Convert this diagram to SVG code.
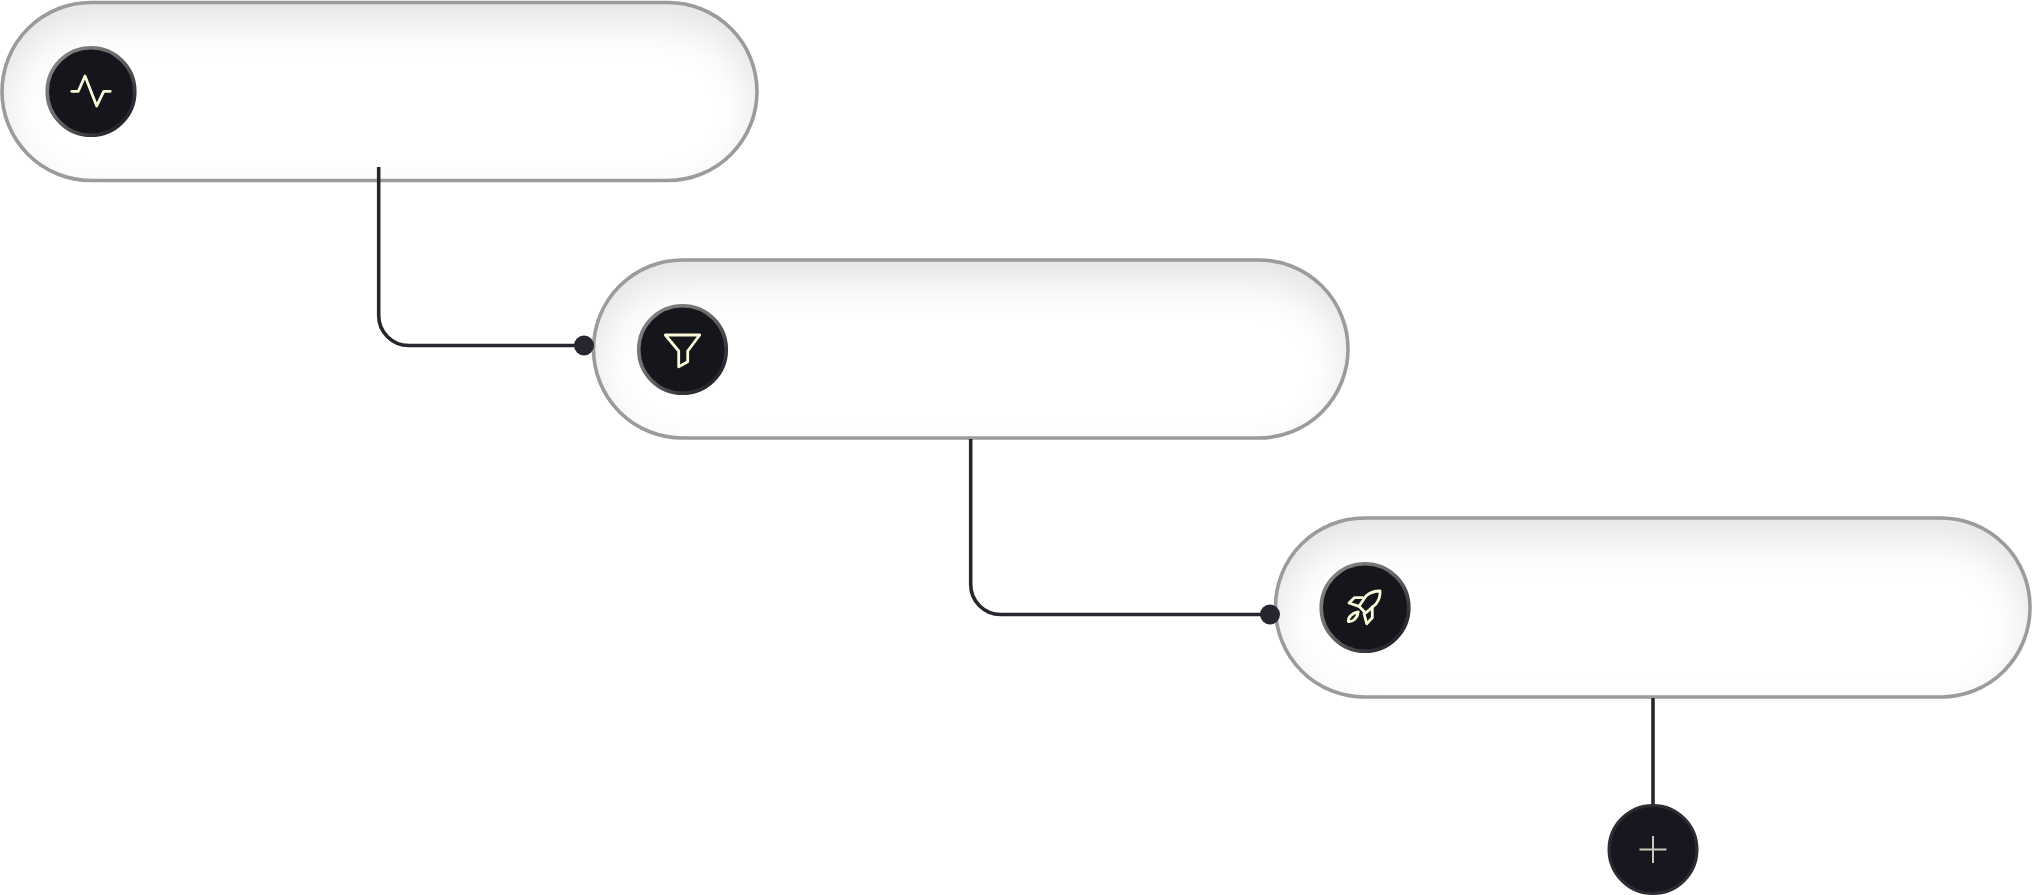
<svg xmlns="http://www.w3.org/2000/svg" width="2032" height="895" viewBox="0 0 2032 895">
<style>
.pill{fill:#fff;filter:url(#inset)}
.edge{fill:none;stroke:#9b9b9b;stroke-width:3.600}
.conn{fill:none;stroke:#26272e;stroke-width:3.600}
.dot{fill:#26272e}
.disc{fill:#14161b;stroke:url(#ring);stroke-width:3.600}
.icon{fill:none;stroke:#fbfbdc;stroke-width:2.800;stroke-linejoin:round;stroke-linecap:round}
</style>
<defs>
<filter id="inset" x="-15%" y="-60%" width="130%" height="220%" color-interpolation-filters="sRGB">
<feFlood flood-color="#000" flood-opacity="0.11" result="f"/>
<feComposite in="f" in2="SourceAlpha" operator="out" result="o"/>
<feOffset in="o" dy="20" result="m"/>
<feGaussianBlur in="m" stdDeviation="20" result="b"/>
<feComposite in="b" in2="SourceAlpha" operator="in" result="s"/>
<feMerge><feMergeNode in="SourceGraphic"/><feMergeNode in="s"/></feMerge>
</filter>
<linearGradient id="ring" x1="0" y1="0" x2="1" y2="1">
<stop offset="0" stop-color="#8a8a8a"/><stop offset="0.45" stop-color="#6a6a6a"/><stop offset="0.85" stop-color="#26272d"/><stop offset="1" stop-color="#1c1d22"/>
</linearGradient>
</defs>
<rect width="2032" height="895" fill="#fff"/>
<g id="node-1">
<rect class="pill" x="2" y="2.500" width="755" height="178" rx="89"/>
<rect class="edge" x="2" y="2.500" width="755" height="178" rx="89"/>
<circle class="disc" cx="91" cy="91.500" r="43.800"/>
<path class="icon" d="M71.700 91.300H78.300L85 76 96.700 106 103.700 91.300H110.300"/>
</g>
<g id="node-2">
<rect class="pill" x="593.500" y="260" width="754.500" height="178" rx="89"/>
<rect class="edge" x="593.500" y="260" width="754.500" height="178" rx="89"/>
<circle class="disc" cx="682.500" cy="349.500" r="43.800"/>
<path class="icon" d="M665.300 335H699.700L687.700 351V361.700L678.700 366.700V351Z"/>
</g>
<g id="node-3">
<rect class="pill" x="1275.500" y="518" width="754.500" height="179" rx="89"/>
<rect class="edge" x="1275.500" y="518" width="754.500" height="179" rx="89"/>
<circle class="disc" cx="1365" cy="607.500" r="43.800"/>
<g class="icon">
<path d="M1380 591C1374 591 1370 592.500 1366 596L1359 606.300 1365.700 613 1376 604C1379 600 1380.500 596 1380 591Z"/>
<path d="M1362.500 597.700H1354.300L1349 603 1359 606.300"/>
<path d="M1372.300 607V617.700L1366.700 623.700 1364 613.500"/>
<path d="M1358.300 612C1352 613 1348 617 1348.300 621.500 1353 622 1357.500 618 1358.300 612Z"/>
</g>
</g>
<g id="connectors">
<path class="conn" d="M378.700 167V315.500A30 30 0 0 0 408.700 345.500H584"/>
<circle class="dot" cx="584" cy="345.500" r="10"/>
<path class="conn" d="M970.700 439V584.500A30 30 0 0 0 1000.700 614.500H1270"/>
<circle class="dot" cx="1270" cy="614.500" r="10"/>
<path class="conn" d="M1653 698V806"/>
</g>
<g id="node-add">
<circle cx="1653" cy="849.500" r="44" fill="#17181f" stroke="#2c2d33" stroke-width="3"/>
<path d="M1639.500 849.500H1666.500M1653 836V863" fill="none" stroke="#c9c9b8" stroke-width="2"/>
</g>
</svg>
